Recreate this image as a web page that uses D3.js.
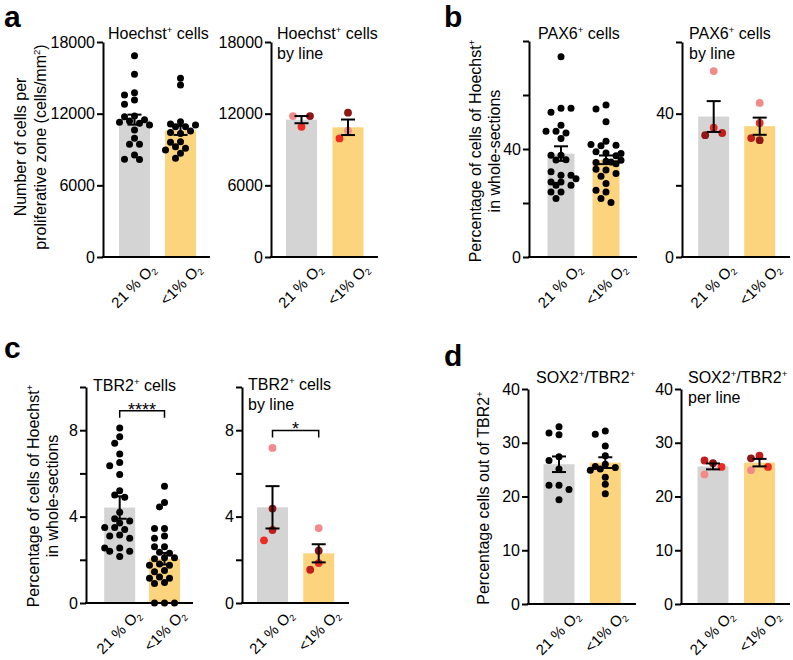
<!DOCTYPE html>
<html><head><meta charset="utf-8">
<script src="https://cdn.jsdelivr.net/npm/d3@7"></script>
<style>
body{margin:0;background:#fff}
svg{display:block}
text{font-family:"Liberation Sans",Arial,Helvetica,sans-serif;fill:#000}
</style>
</head><body>
<svg id="fig" width="793" height="660"></svg>
<script>
// ---------------- DATA ----------------
const conditions = ["21 % O₂", "<1% O₂"];

// a: Hoechst+ cells per proliferative zone (cells/mm²)
const hoechstNormoxia = [16850, 15290, 13760, 13560, 13140, 12780, 11800, 11750, 11500, 11390, 11280, 11190, 11050, 10630, 9940, 9440, 9430, 8540, 8180, 8170];
const hoechstHypoxia  = [14960, 14400, 11330, 11140, 10900, 11050, 10900, 10350, 10430, 10550, 9650, 9600, 9230, 9100, 8950, 8680, 8260];
const hoechstMeans = [11500, 10600];
const hoechstSem   = [420, 380];
const hoechstLineNormoxia = [10900, 11800, 11800];
const hoechstLineHypoxia  = [12080, 10570, 9930];
const hoechstLineIdsN = ["L2", "L1", "L4"];
const hoechstLineIdsH = ["L4", "L1", "L2"];
const hoechstLineMeans = [11500, 10860];
const hoechstLineSem   = [300, 650];

// b: PAX6+ cells (% of Hoechst+)
const pax6Normoxia = [74.2, 55.1, 53.6, 55.1, 48.8, 46.6, 45.9, 46.6, 43.9, 37.7, 35.9, 37.7, 36.0, 30.3, 31.6, 30.3, 27.8, 27.8, 26.6, 26.6, 29.0, 24.1, 24.1, 21.7];
const pax6Hypoxia  = [56.3, 54.8, 50.1, 42.9, 41.2, 41.4, 41.7, 38.5, 39.0, 37.5, 38.3, 35.5, 35.0, 35.8, 34.5, 35.2, 32.2, 32.5, 29.9, 30.9, 27.2, 24.1, 24.7, 21.7, 20.2];
const pax6Means = [38.3, 36.0];
const pax6Sem   = [2.7, 1.6];
const pax6LineNormoxia = [51.9, 36.1, 34.0, 34.6];
const pax6LineHypoxia  = [43.0, 37.4, 32.6, 33.2];
const pax6LineIdsN = ["L1", "L2", "L4", "L3"];
const pax6LineIdsH = ["L1", "L2", "L4", "L3"];
const pax6LineMeans = [39.2, 36.5];
const pax6LineSem   = [4.3, 2.4];

// c: TBR2+ cells (% of Hoechst+)
const tbr2Normoxia = [8.1, 7.7, 7.4, 6.9, 6.5, 6.35, 5.95, 5.2, 5.0, 4.9, 4.2, 3.9, 3.7, 3.8, 3.5, 3.4, 3.5, 3.15, 3.1, 3.0, 2.55, 2.4, 2.15, 2.4, 2.55];
const tbr2Hypoxia  = [5.4, 4.65, 4.45, 3.45, 3.45, 3.1, 3.0, 2.6, 2.6, 2.35, 2.3, 2.1, 2.05, 2.1, 1.8, 1.75, 1.75, 1.5, 1.45, 1.2, 1.15, 1.15, 0.95, 0.9, 0, 0, 0];
const tbr2Means = [4.42, 2.05];
const tbr2Sem   = [0.52, 0.27];
const tbr2LineNormoxia = [7.18, 4.37, 3.38, 2.90];
const tbr2LineHypoxia  = [3.47, 2.42, 1.85, 1.54];
const tbr2LineIdsN = ["L1", "L4", "L3", "L2"];
const tbr2LineIdsH = ["L1", "L4", "L2", "L3"];
const tbr2LineMeans = [4.43, 2.30];
const tbr2LineSem   = [0.98, 0.42];

// d: SOX2+/TBR2+ (% of TBR2+)
const sox2Normoxia = [33.0, 31.5, 31.8, 27.4, 26.7, 25.1, 22.1, 22.1, 21.3, 19.4];
const sox2Hypoxia  = [32.2, 31.6, 29.4, 27.6, 26.0, 25.6, 25.4, 25.1, 24.9, 23.6, 22.3, 20.5];
const sox2Means = [26.0, 26.3];
const sox2Sem   = [1.45, 1.0];
const sox2LineNormoxia = [26.2, 26.7, 25.5, 24.1];
const sox2LineHypoxia  = [27.6, 27.1, 25.5, 24.9];
const sox2LineIdsN = ["L4", "L3", "L2", "L1"];
const sox2LineIdsH = ["L3", "L4", "L2", "L1"];
const sox2LineMeans = [25.6, 26.3];
const sox2LineSem   = [0.55, 0.7];

// tick values
const hoechstTicks = [0, 6000, 12000, 18000];
const pax6Ticks = [0, 20, 40, 60, 80];
const pax6LineTicks = [0, 20, 40, 60];
const pax6Labels = [0, 40];
const tbr2Ticks = [0, 2, 4, 6, 8, 10];
const tbr2Labels = [0, 4, 8];
const sox2Ticks = [0, 10, 20, 30, 40];

const lineIds = ["L1", "L2", "L3", "L4"];

// ---------------- DRAWING ----------------
const svg = d3.select("#fig");
const FS = 16;
const XFS = 15;
const barColor = d3.scaleOrdinal().domain(conditions).range(["#d4d4d4", "#fdd47e"]);
const lineColor = d3.scaleOrdinal().domain(lineIds).range(["#f4898a", "#ef2a22", "#c01d1d", "#8e1616"]);

function rich(t, str, fs) {
  const segs = [];
  for (const ch of str) {
    let type = "n", c = ch;
    if (ch === "⁺") { type = "sup"; c = "+"; }
    else if (ch === "²") { type = "sup"; c = "2"; }
    else if (ch === "₂") { type = "sub"; c = "2"; }
    const last = segs[segs.length - 1];
    if (last && last.type === type) last.t += c; else segs.push({type, t: c});
  }
  let cur = 0;
  segs.forEach(s => {
    const target = s.type === "sup" ? -0.38 * fs : s.type === "sub" ? 0.2 * fs : 0;
    t.append("tspan").attr("dy", target - cur)
      .attr("font-size", s.type === "n" ? fs : fs * 0.6).text(s.t);
    cur = target;
  });
}

function swarm(vals, y, cx, step, minDist, maxK) {
  const placed = [];
  vals.forEach(v => {
    const py = y(v);
    let best = null, bestScore = -1;
    for (let k = 0; k <= maxK; k++) {
      const off = k === 0 ? 0 : (k % 2 ? -1 : 1) * Math.ceil(k / 2) * step;
      const md = placed.length ? d3.min(placed, p => Math.hypot(p.x - (cx + off), p.y - py)) : 1e9;
      if (md >= minDist) { best = off; break; }
      if (md > bestScore) { bestScore = md; best = off; }
    }
    placed.push({x: cx + best, y: py, v});
  });
  return placed;
}

function panel(cfg) {
  const g = svg.append("g");
  const y = d3.scaleLinear().domain(cfg.dom).range([cfg.zero, cfg.top]);
  const x = d3.scaleOrdinal().domain(conditions).range(cfg.cx);

  // bars
  g.selectAll("rect.bar").data(conditions).join("rect")
    .attr("x", d => x(d) - cfg.bw / 2).attr("width", cfg.bw)
    .attr("y", (d, i) => y(cfg.means[i])).attr("height", (d, i) => cfg.zero - y(cfg.means[i]))
    .attr("fill", d => barColor(d));

  // dots
  const r = cfg.ids ? 3.9 : 3.5;
  conditions.forEach((c, gi) => {
    const vals = cfg.pts[gi];
    const pos = cfg.ids
      ? swarm(vals, y, x(c), 8.5, 11.5, 2)
      : swarm(vals, y, x(c), 5, 6.6, 6);
    g.selectAll(null).data(pos).join("circle")
      .attr("cx", d => d.x).attr("cy", d => d.y).attr("r", r)
      .attr("fill", (d, i) => cfg.ids ? lineColor(cfg.ids[gi][i]) : "#000");
  });

  // error bars
  conditions.forEach((c, gi) => {
    const cxv = x(c), m = cfg.means[gi], s = cfg.sems[gi];
    const eg = g.append("g").attr("stroke", "#000").attr("stroke-width", 2);
    eg.append("line").attr("x1", cxv).attr("x2", cxv).attr("y1", y(m - s)).attr("y2", y(m + s));
    [m - s, m + s].forEach(v => eg.append("line").attr("x1", cxv - 7).attr("x2", cxv + 7).attr("y1", y(v)).attr("y2", y(v)));
  });

  // y axis
  const ax = d3.axisLeft(y).tickValues(cfg.ticks).tickSize(6).tickSizeOuter(0).tickPadding(2)
    .tickFormat(d => (cfg.labels || cfg.ticks).includes(d) ? d : "");
  const ag = g.append("g").attr("transform", `translate(${cfg.ax},0)`).call(ax);
  ag.select(".domain").attr("stroke-width", 2).attr("stroke", "#000");
  ag.selectAll(".tick line").attr("stroke-width", 2).attr("stroke", "#000");
  ag.selectAll(".tick text").attr("font-size", FS).attr("font-family", '"Liberation Sans",Arial,sans-serif').attr("fill", "#000");

  // x axis line
  g.append("line").attr("x1", cfg.ax - 1).attr("x2", cfg.xEnd).attr("y1", cfg.zero).attr("y2", cfg.zero)
    .attr("stroke", "#000").attr("stroke-width", 2);

  // x labels rotated
  conditions.forEach(c => {
    const lx = x(c) + 22, ly = cfg.zero + 13;
    const t = g.append("text").attr("x", lx).attr("y", ly).attr("text-anchor", "end")
      .attr("font-size", XFS).attr("transform", `rotate(-45,${lx},${ly})`);
    rich(t, c, XFS);
  });

  // title
  cfg.title.forEach((line, i) => {
    const t = g.append("text").attr("x", cfg.tx).attr("y", cfg.ty + i * 20).attr("font-size", FS);
    rich(t, line, FS);
  });

  // significance
  if (cfg.sig) {
    const sy = y(cfg.sig.level);
    g.append("path").attr("fill", "none").attr("stroke", "#000").attr("stroke-width", 1.5)
      .attr("d", `M${cfg.cx[0]},${sy + 7}V${sy}H${cfg.cx[1]}V${sy + 7}`);
    g.append("text").attr("x", (cfg.cx[0] + cfg.cx[1]) / 2).attr("y", sy + 5).attr("text-anchor", "middle")
      .attr("font-size", 18).text(cfg.sig.text);
  }
}

function ylabel(lines, xs, yc) {
  lines.forEach((l, i) => {
    const t = svg.append("text").attr("x", xs[i]).attr("y", yc).attr("text-anchor", "middle")
      .attr("font-size", FS).attr("transform", `rotate(-90,${xs[i]},${yc})`);
    rich(t, l, FS);
  });
}

function letter(ch, x, y) {
  svg.append("text").attr("x", x).attr("y", y).attr("font-size", 30).attr("font-weight", "bold").text(ch);
}

// panel a
panel({ax: 103, top: 42, zero: 257, xEnd: 210, dom: [0, 18000], ticks: hoechstTicks,
  cx: [134.5, 180.5], bw: 31, means: hoechstMeans, sems: hoechstSem,
  pts: [hoechstNormoxia, hoechstHypoxia], title: ["Hoechst⁺ cells"], tx: 108, ty: 39});
panel({ax: 271, top: 42, zero: 257, xEnd: 378, dom: [0, 18000], ticks: hoechstTicks,
  cx: [301.5, 348], bw: 31, means: hoechstLineMeans, sems: hoechstLineSem,
  pts: [hoechstLineNormoxia, hoechstLineHypoxia], ids: [hoechstLineIdsN, hoechstLineIdsH],
  title: ["Hoechst⁺ cells", "by line"], tx: 277, ty: 39});
ylabel(["Number of cells per", "proliferative zone (cells/mm²)"], [26, 46], 147);
letter("a", 4, 27);

// panel b
panel({ax: 529, top: 41, zero: 257, xEnd: 637, dom: [0, 80], ticks: pax6Ticks, labels: pax6Labels,
  cx: [561, 606], bw: 27, means: pax6Means, sems: pax6Sem,
  pts: [pax6Normoxia, pax6Hypoxia], title: ["PAX6⁺ cells"], tx: 538, ty: 39});
panel({ax: 682, top: 42, zero: 257, xEnd: 790, dom: [0, 60], ticks: pax6LineTicks, labels: pax6Labels,
  cx: [713.7, 759.7], bw: 31, means: pax6LineMeans, sems: pax6LineSem,
  pts: [pax6LineNormoxia, pax6LineHypoxia], ids: [pax6LineIdsN, pax6LineIdsH],
  title: ["PAX6⁺ cells", "by line"], tx: 689, ty: 39});
ylabel(["Percentage of cells of Hoechst⁺", "in whole-sections"], [481, 500], 151);
letter("b", 444, 27);

// panel c
panel({ax: 86, top: 387, zero: 603, xEnd: 193, dom: [0, 10], ticks: tbr2Ticks, labels: tbr2Labels,
  cx: [119.7, 164.5], bw: 31, means: tbr2Means, sems: tbr2Sem,
  pts: [tbr2Normoxia, tbr2Hypoxia], title: ["TBR2⁺ cells"], tx: 93, ty: 391,
  sig: {level: 8.9, text: "****"}});
panel({ax: 242, top: 387, zero: 603, xEnd: 349, dom: [0, 10], ticks: tbr2Ticks, labels: tbr2Labels,
  cx: [272.5, 318.7], bw: 31, means: tbr2LineMeans, sems: tbr2LineSem,
  pts: [tbr2LineNormoxia, tbr2LineHypoxia], ids: [tbr2LineIdsN, tbr2LineIdsH],
  title: ["TBR2⁺ cells", "by line"], tx: 248, ty: 390,
  sig: {level: 7.99, text: "*"}});
ylabel(["Percentage of cells of Hoechst⁺", "in whole-sections"], [39, 58], 496);
letter("c", 4, 358);

// panel d
panel({ax: 528, top: 389, zero: 604, xEnd: 636, dom: [0, 40], ticks: sox2Ticks,
  cx: [559, 605.3], bw: 31, means: sox2Means, sems: sox2Sem,
  pts: [sox2Normoxia, sox2Hypoxia], title: ["SOX2⁺/TBR2⁺"], tx: 536, ty: 383});
panel({ax: 681, top: 389, zero: 604, xEnd: 790, dom: [0, 40], ticks: sox2Ticks,
  cx: [713, 759.5], bw: 31, means: sox2LineMeans, sems: sox2LineSem,
  pts: [sox2LineNormoxia, sox2LineHypoxia], ids: [sox2LineIdsN, sox2LineIdsH],
  title: ["SOX2⁺/TBR2⁺", "per line"], tx: 688, ty: 383});
ylabel(["Percentage cells out of TBR2⁺"], [489], 498);
letter("d", 444, 366);
</script>
</body></html>
